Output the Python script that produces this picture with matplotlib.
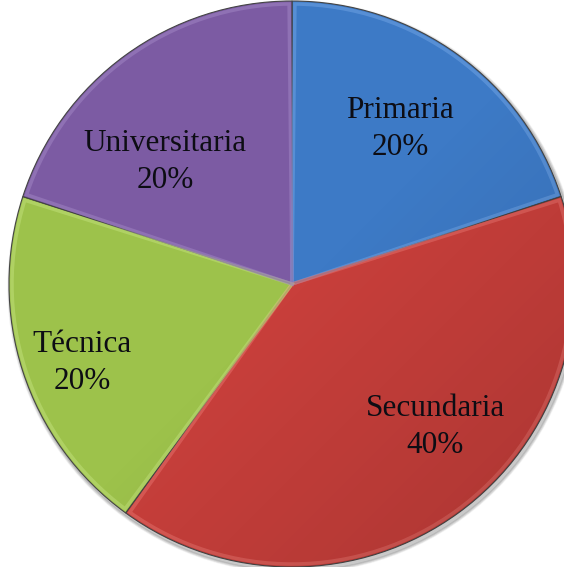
import matplotlib
matplotlib.use("Agg")
import matplotlib.pyplot as plt
from matplotlib.patches import Circle, Wedge
import numpy as np

# data
categories = ["Primaria", "Secundaria", "Técnica", "Universitaria"]
shares = [20, 40, 20, 20]
colors = ["#3d7ac6", "#c83f3b", "#9dc24b", "#7c5ba3"]
edge_colors = ["#6a9ee0", "#e46b66", "#bcdc74", "#9c80c0"]

# label positions (pixel coords, y from the top)
label_pos = [(400, 129), (435, 427), (82, 363), (165, 162)]

W, H = 564, 567
cx, cy, R = 292, H - 284, 283

fig = plt.figure(figsize=(W / 100, H / 100), dpi=100)
ax = fig.add_axes([0, 0, 1, 1])

# soft shadow behind the pie
for i, a in enumerate([0.05, 0.07, 0.10]):
    ax.add_patch(Circle((cx + 2, cy - 3), R + 3 - i, color="black", alpha=a, zorder=0))

wedges, _ = ax.pie(shares, colors=colors, startangle=90, counterclock=False,
                   center=(cx, cy), radius=R, frame=True,
                   wedgeprops=dict(linewidth=0.8, edgecolor="#444444"))
for w in wedges:
    w.set_zorder(1)

# bevel highlight along the slice edges
for w, ec in zip(wedges, edge_colors):
    ax.add_patch(Wedge((cx, cy), R - 3, w.theta1 + 0.6, w.theta2 - 0.6,
                       facecolor="none", edgecolor=ec, linewidth=2.5,
                       alpha=0.6, zorder=2))

# slight darkening toward the lower right
yy, xx = np.mgrid[0:H, 0:W]
shade = ((xx - cx) - (yy - cy)) / (2 * R)
shade = np.clip(shade, 0, 1) * 0.15
img = np.zeros((H, W, 4))
img[..., 3] = shade
im = ax.imshow(img, extent=(0, W, 0, H), origin="lower", zorder=3)
im.set_clip_path(Circle((cx, cy), R, transform=ax.transData))

ax.set_xlim(0, W)
ax.set_ylim(0, H)
ax.set_aspect("equal")
ax.set_axis_off()

for name, pct, (x, y) in zip(categories, shares, label_pos):
    ax.text(x, H - y, f"{name}\n{pct}%", ha="center", va="center",
            fontsize=22.5, family=["Liberation Serif", "DejaVu Serif"],
            color="#0d0d14", linespacing=1.38, zorder=4)

fig.savefig("out.png", dpi=100)
